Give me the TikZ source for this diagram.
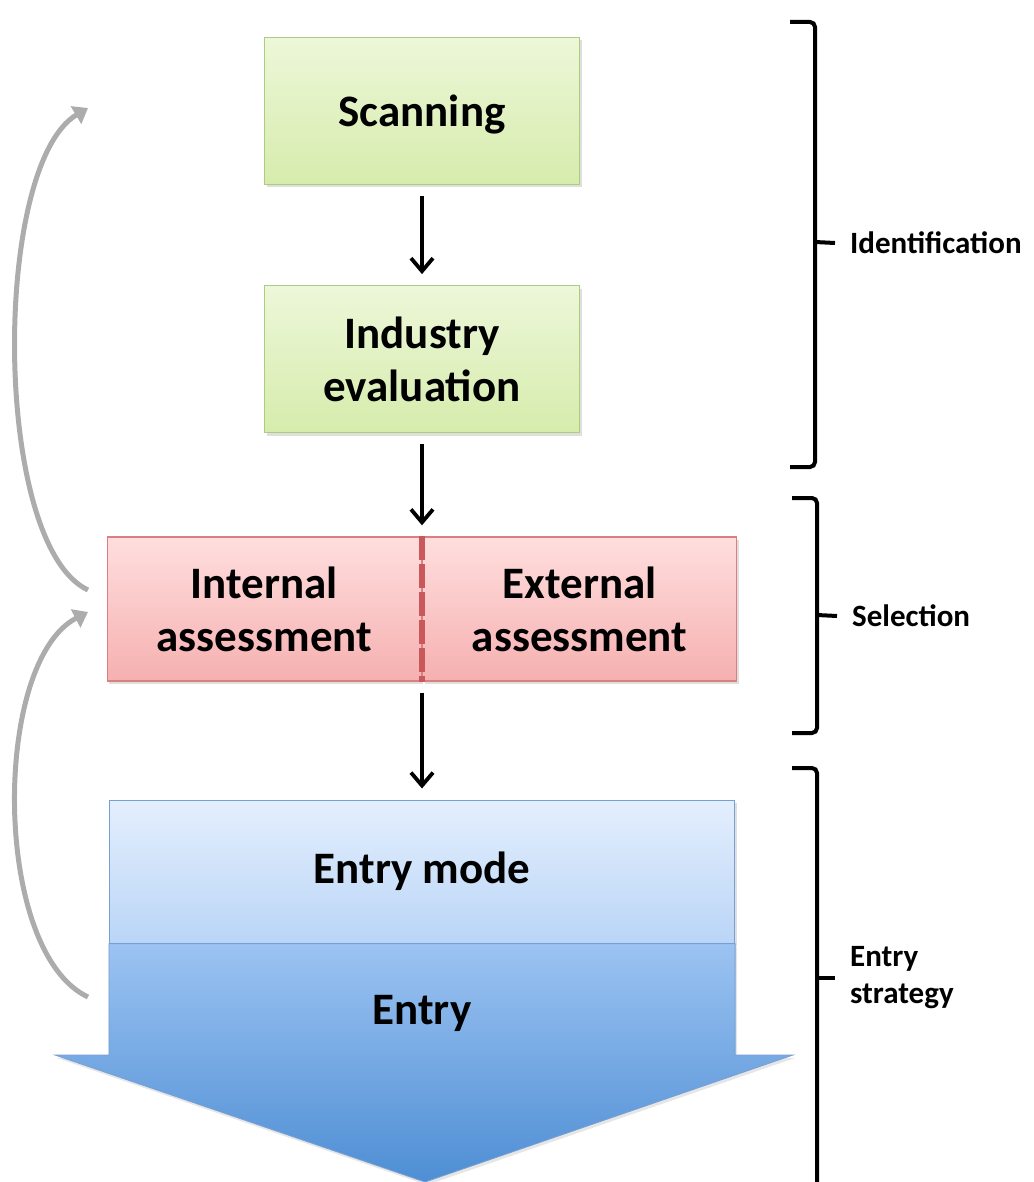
\documentclass[tikz,border=0pt]{standalone}
\usepackage{fontspec}
\setmainfont{Carlito}
\usetikzlibrary{arrows.meta, positioning, shadows}

\definecolor{greentop}{RGB}{237,247,217}
\definecolor{greenbot}{RGB}{214,236,172}
\definecolor{greenline}{RGB}{172,204,128}
\definecolor{redtop}{RGB}{255,222,222}
\definecolor{redbot}{RGB}{246,176,176}
\definecolor{redline}{RGB}{218,128,128}
\definecolor{reddash}{RGB}{200,88,92}
\definecolor{bluetop}{RGB}{228,239,253}
\definecolor{bluemid}{RGB}{186,213,247}
\definecolor{bluelow}{RGB}{156,195,242}
\definecolor{bluebot}{RGB}{78,142,212}
\definecolor{blueline}{RGB}{118,160,212}
\definecolor{loopgray}{RGB}{172,172,172}

\begin{document}
\begin{tikzpicture}[
  x=1pt, y=-1pt,
  box/.style={draw, line width=1.2pt, align=center, inner sep=0pt,
    font=\fontsize{45}{53}\selectfont\bfseries,
    drop shadow={opacity=0.25, shadow xshift=2pt, shadow yshift=-3pt}},
  greenbox/.style={box, draw=greenline, top color=greentop, bottom color=greenbot,
    minimum width=315pt, minimum height=147pt},
  redbox/.style={box, draw=redline, top color=redtop, bottom color=redbot,
    minimum width=314pt, minimum height=144pt},
  modebox/.style={box, draw=blueline, top color=bluetop, bottom color=bluemid,
    minimum width=625pt, minimum height=143pt},
  arrow/.style={-{Straight Barb[length=13pt,width=22pt]}, line width=3.8pt,
    shorten <=11pt, shorten >=11pt},
  loop/.style={-{Triangle[length=14pt,width=20pt]}, line width=5pt, draw=loopgray},
  brace/.style={line width=4pt, rounded corners=5pt},
  tag/.style={anchor=west, align=left, inner xsep=15pt, inner ysep=0pt,
    font=\fontsize{31}{37}\selectfont\bfseries}
]
\useasboundingbox (0,0) rectangle (1033,1182);

% Boxes
\node[greenbox, text depth=0pt] (scan) at (422,111) {Scanning};
\node[greenbox, below=100pt of scan] (ind) {Industry\\evaluation};
\node[redbox, below=103pt of ind.south, anchor=north east] (intl) {Internal\\assessment};
\node[redbox, right=0pt of intl] (extl) {External\\assessment};
\draw[reddash, line width=6pt, dash pattern=on 24pt off 4pt]
  (intl.north east) -- (intl.south east);

% Entry arrow
\node[modebox, below=118pt of intl.south east] (mode) {Entry mode};
\coordinate (hl) at (55,1055);
\coordinate (hr) at (793,1055);
\coordinate (tip) at (425,1182);
\path[top color=bluelow, bottom color=bluebot, draw=blueline, line width=0.8pt,
  drop shadow={opacity=0.2, shadow xshift=2pt, shadow yshift=-3pt}]
  (mode.south west) -- (mode.south west |- hl) -- (hl) -- (tip) -- (hr)
  -- (mode.south east |- hr) -- (mode.south east) -- cycle;
\draw[blueline, line width=1.2pt] (mode.south west) -- (mode.south east);
\node[below=0pt of mode, minimum width=625pt, minimum height=140pt, inner sep=0pt,
  font=\fontsize{45}{53}\selectfont\bfseries] (entry) {Entry};

% Pointers
\draw[arrow] (scan) -- (ind);
\draw[arrow] (ind.south) -- (intl.north east);
\draw[arrow] (intl.south east) -- (mode.north);

% Feedback loops
\coordinate (a1) at (88,590);
\coordinate (b1) at (88,108);
\coordinate (a2) at (88,997);
\coordinate (b2) at (88,612);
\draw[loop] (a1) .. controls (-8,545) and (-8,165) .. (b1);
\draw[loop] (a2) .. controls (-8,952) and (-8,662) .. (b2);

% Brackets
\node[tag] (idlab) at (835,243) {Identification};
\node[tag] (sellab) at (837,616) {Selection};
\node[tag] (stratlab) at (835,978) {Entry\\strategy};
\draw[brace] (790,22) -- (815,22) -- (815,467) -- (790,467);
\draw[brace] (815,242) -- (idlab.west);
\draw[brace] (792,498) -- (817,498) -- (817,733) -- (792,733);
\draw[brace] (817,615) -- (sellab.west);
\draw[brace] (792,768) -- (817,768) -- (817,1195);
\draw[brace] (817,978) -- (stratlab.west);

\end{tikzpicture}
\end{document}
